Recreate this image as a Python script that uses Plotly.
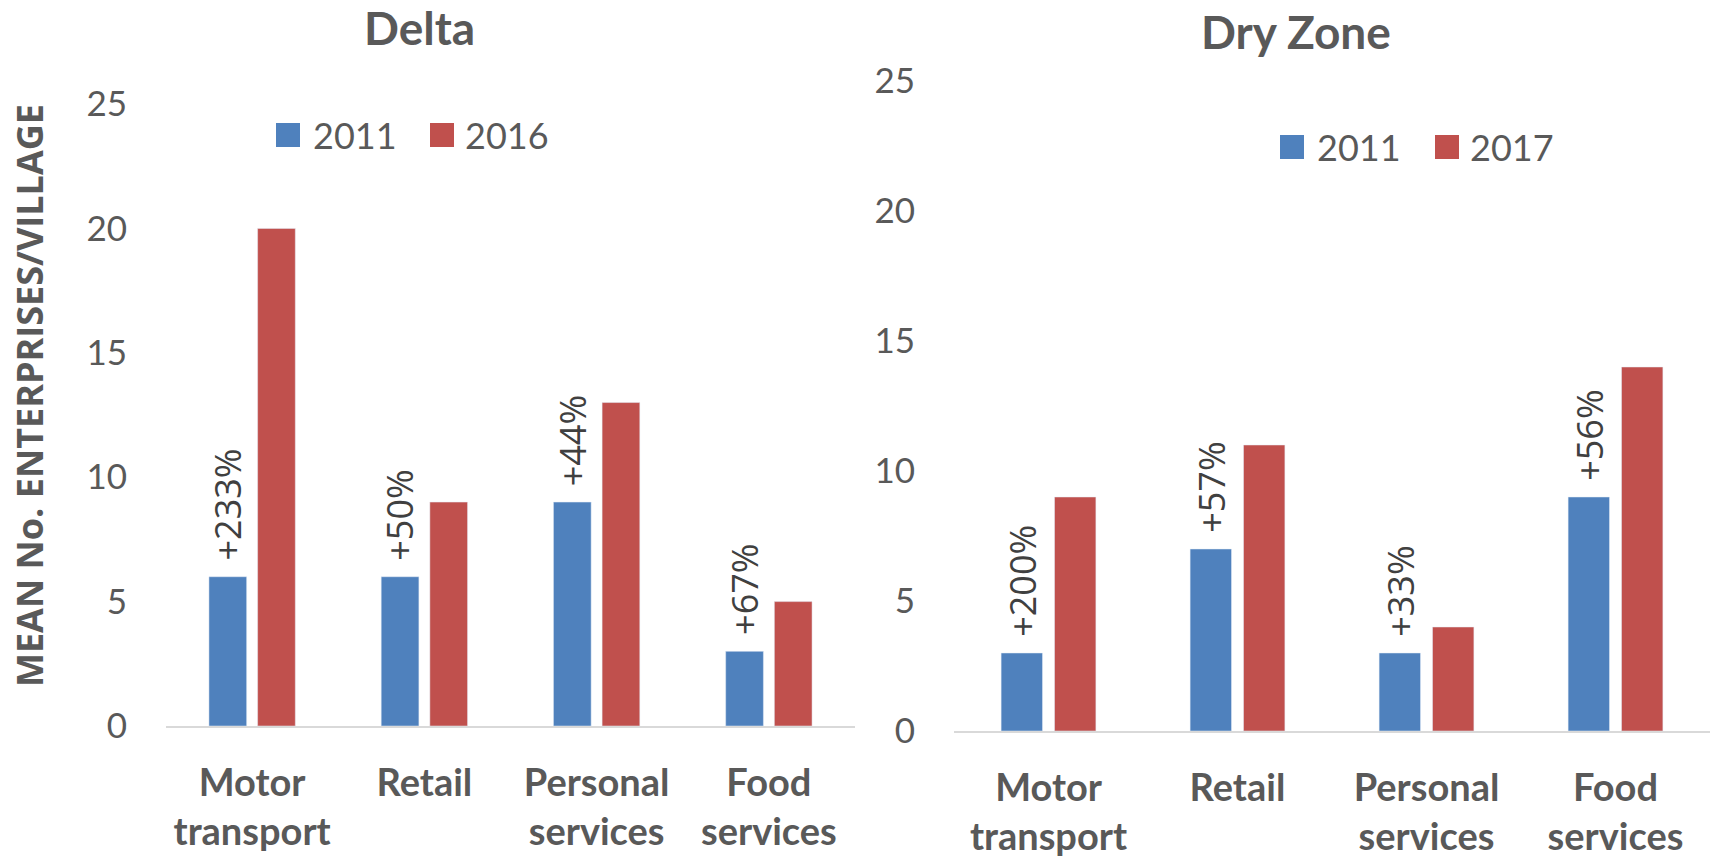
import plotly.graph_objects as go

# ---------------- data ----------------
categories = ["Motor<br>transport", "Retail", "Personal<br>services", "Food<br>services"]

delta_2011 = [6, 6, 9, 3]
delta_2016 = [20, 9, 13, 5]
delta_change = ["+233%", "+50%", "+44%", "+67%"]

dry_2011 = [3, 7, 3, 9]
dry_2017 = [9, 11, 4, 14]
dry_change = ["+200%", "+57%", "+33%", "+56%"]

y_ticks = [0, 5, 10, 15, 20, 25]

# ---------------- style ----------------
W, H = 1715, 856
BLUE = "#4F81BD"
RED = "#C0504D"
GREY = "#595959"
DARK = "#404040"
BARGAP = 0.435
BARGROUPGAP = 0.225


def px_x(p):
    return p / W


def px_y(p):
    return 1 - p / H


fig = go.Figure()

fig.add_trace(go.Bar(x=categories, y=delta_2011, name="2011", marker_color=BLUE,
                     xaxis="x", yaxis="y", showlegend=False))
fig.add_trace(go.Bar(x=categories, y=delta_2016, name="2016", marker_color=RED,
                     xaxis="x", yaxis="y", showlegend=False))
fig.add_trace(go.Bar(x=categories, y=dry_2011, name="2011", marker_color=BLUE,
                     xaxis="x2", yaxis="y2", showlegend=False))
fig.add_trace(go.Bar(x=categories, y=dry_2017, name="2017", marker_color=RED,
                     xaxis="x2", yaxis="y2", showlegend=False))

annotations = []

# percentage-change labels above the 2011 bar of each group
offset = (1 - BARGAP) / 4  # centre of first bar in group, in category units
for xref, yref, vals, labels in [("x", "y", delta_2011, delta_change),
                                 ("x2", "y2", dry_2011, dry_change)]:
    for i, (v, lab) in enumerate(zip(vals, labels)):
        annotations.append(dict(
            x=i - offset, y=v, xref=xref, yref=yref, text=lab, textangle=-90,
            showarrow=False, xanchor="center", yanchor="bottom", yshift=14,
            font=dict(family="Open Sans", size=36, color=DARK)))

# panel titles
annotations.append(dict(x=px_x(419.5), y=px_y(28), xref="paper", yref="paper", text="<b>Delta</b>",
                        showarrow=False, xanchor="center", yanchor="middle",
                        font=dict(family="Lato", size=46, color=GREY)))
annotations.append(dict(x=px_x(1295.5), y=px_y(31), xref="paper", yref="paper", text="<b>Dry Zone</b>",
                        showarrow=False, xanchor="center", yanchor="middle",
                        font=dict(family="Lato", size=46, color=GREY)))

# y-axis title
annotations.append(dict(x=px_x(29), y=px_y(396), xref="paper", yref="paper",
                        text="<b>MEAN No. ENTERPRISES/VILLAGE</b>", textangle=-90,
                        showarrow=False, xanchor="center", yanchor="middle",
                        font=dict(family="Open Sans", size=36, color=GREY)))

# legends (drawn as swatches + text)
shapes = []
legend_items = [
    (276, 135, BLUE, "2011", 313),
    (430, 135, RED, "2016", 465),
    (1280, 147, BLUE, "2011", 1317),
    (1435, 147, RED, "2017", 1470),
]
for sx, cy, col, lab, tx in legend_items:
    shapes.append(dict(type="rect", xref="paper", yref="paper",
                       x0=px_x(sx), x1=px_x(sx + 24), y0=px_y(cy + 12), y1=px_y(cy - 12),
                       fillcolor=col, line=dict(width=0)))
    annotations.append(dict(x=px_x(tx - 2), y=px_y(cy), xref="paper", yref="paper", text=lab,
                            showarrow=False, xanchor="left", yanchor="middle",
                            font=dict(family="Lato", size=36, color=GREY)))

xaxis_common = dict(type="category", showgrid=False, zeroline=False, showline=True,
                    linecolor="#D9D9D9", linewidth=2, ticks="", automargin=False,
                    tickfont=dict(family="Lato", size=38, color=GREY, weight="bold"),
                    ticklabelstandoff=22, fixedrange=True)
yaxis_common = dict(range=[0, 25], tickvals=y_ticks, showgrid=False, zeroline=False,
                    showline=False, ticks="", automargin=False,
                    tickfont=dict(family="Lato", size=35, color=GREY),
                    ticklabelstandoff=38, fixedrange=True)

fig.update_layout(
    width=W, height=H,
    margin=dict(l=0, r=0, t=0, b=0, pad=0, autoexpand=False),
    paper_bgcolor="white", plot_bgcolor="white",
    barmode="group", bargap=BARGAP, bargroupgap=BARGROUPGAP,
    showlegend=False,
    xaxis=dict(domain=[px_x(166), px_x(855)], anchor="y", **xaxis_common),
    yaxis=dict(domain=[px_y(726), px_y(104)], anchor="x", **yaxis_common),
    xaxis2=dict(domain=[px_x(954), px_x(1710)], anchor="y2", **xaxis_common),
    yaxis2=dict(domain=[px_y(731), px_y(81)], anchor="x2", **yaxis_common),
    annotations=annotations,
    shapes=shapes,
)

fig.write_html("out.html",
               config={"displayModeBar": False},
               post_script="document.body.style.margin='0';document.body.style.overflow='hidden';")
